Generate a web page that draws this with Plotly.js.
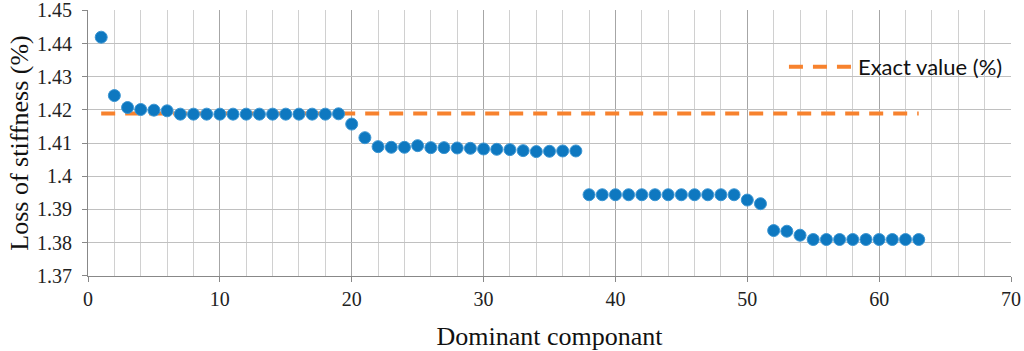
<!DOCTYPE html>
<html>
<head>
<meta charset="utf-8">
<script src="https://cdn.plot.ly/plotly-3.0.1.min.js"></script>
<style>html,body{margin:0;padding:0;background:#fff;}#chart{width:1024px;height:351px;}</style>
</head>
<body>
<div id="chart"></div>
<script>
const components = [1,2,3,4,5,6,7,8,9,10,11,12,13,14,15,16,17,18,19,20,21,22,23,24,25,26,27,28,29,30,31,32,33,34,35,36,37,38,39,40,41,42,43,44,45,46,47,48,49,50,51,52,53,54,55,56,57,58,59,60,61,62,63];
const lossValues = [1.4419,1.4243,1.4207,1.4201,1.4199,1.4197,1.4187,1.4187,1.4187,1.4187,1.4187,1.4187,1.4187,1.4187,1.4187,1.4187,1.4187,1.4187,1.4188,1.4157,1.4116,1.4089,1.4087,1.4087,1.4092,1.4086,1.4086,1.4085,1.4084,1.4082,1.4081,1.4080,1.4077,1.4074,1.4075,1.4076,1.4076,1.3944,1.3944,1.3944,1.3944,1.3944,1.3944,1.3944,1.3944,1.3944,1.3944,1.3944,1.3944,1.3928,1.3917,1.3836,1.3834,1.3822,1.3809,1.3809,1.3809,1.3809,1.3809,1.3809,1.3809,1.3809,1.3809];
const exactX = [1, 63];
const exactY = [1.4189, 1.4189];
const exactName = 'Exact value (%)';
const xTitle = 'Dominant componant';
const yTitle = 'Loss of stiffness (%)';
const yTickVals = [1.37, 1.38, 1.39, 1.40, 1.41, 1.42, 1.43, 1.44, 1.45];
const yTickText = ['1.37', '1.38', '1.39', '1.4', '1.41', '1.42', '1.43', '1.44', '1.45'];

const serif = 'Liberation Serif';
const traces = [
  {
    x: exactX, y: exactY, mode: 'lines', name: exactName,
    line: {color: '#F7822E', width: 4, dash: '14px,10px'}
  },
  {
    x: components, y: lossValues, mode: 'markers', name: 'Loss', showlegend: false,
    marker: {color: '#0E78C0', size: 12, line: {color: '#3C96D3', width: 1}}
  }
];

const layout = {
  width: 1024, height: 351,
  margin: {l: 88, r: 13, t: 10, b: 75},
  paper_bgcolor: '#fff', plot_bgcolor: '#fff',
  font: {family: serif, color: '#222', size: 20},
  xaxis: {
    range: [0, 70], dtick: 10, tick0: 0,
    showgrid: true, gridcolor: '#a6a6a6', gridwidth: 1,
    minor: {dtick: 2, showgrid: true, gridcolor: '#d0d0d0', gridwidth: 1},
    ticks: 'outside', ticklen: 5, tickcolor: '#888',
    showline: true, linecolor: '#888', linewidth: 1,
    zeroline: false,
    ticklabeloverflow: 'allow',
    tickfont: {size: 20, family: serif, color: '#222'},
    title: {text: xTitle, font: {size: 26, family: serif, color: '#111'}, standoff: 20}
  },
  yaxis: {
    range: [1.3699, 1.4501],
    tickmode: 'array', tickvals: yTickVals, ticktext: yTickText,
    showgrid: true, gridcolor: '#c0c0c0', gridwidth: 1,
    ticks: 'outside', ticklen: 5, tickcolor: '#888',
    showline: true, linecolor: '#888', linewidth: 1,
    zeroline: false,
    ticklabelstandoff: 6,
    ticklabeloverflow: 'allow',
    tickfont: {size: 20, family: serif, color: '#222'},
    title: {text: yTitle, font: {size: 26, family: serif, color: '#111'}, standoff: 0}
  },
  showlegend: true,
  legend: {
    x: 0.754, y: 0.865, xanchor: 'left', yanchor: 'top',
    itemwidth: 64,
    bgcolor: 'rgba(0,0,0,0)',
    font: {family: 'Lato', size: 22, color: '#111'}
  }
};

Plotly.newPlot('chart', traces, layout, {displayModeBar: false, staticPlot: true});
</script>
</body>
</html>
